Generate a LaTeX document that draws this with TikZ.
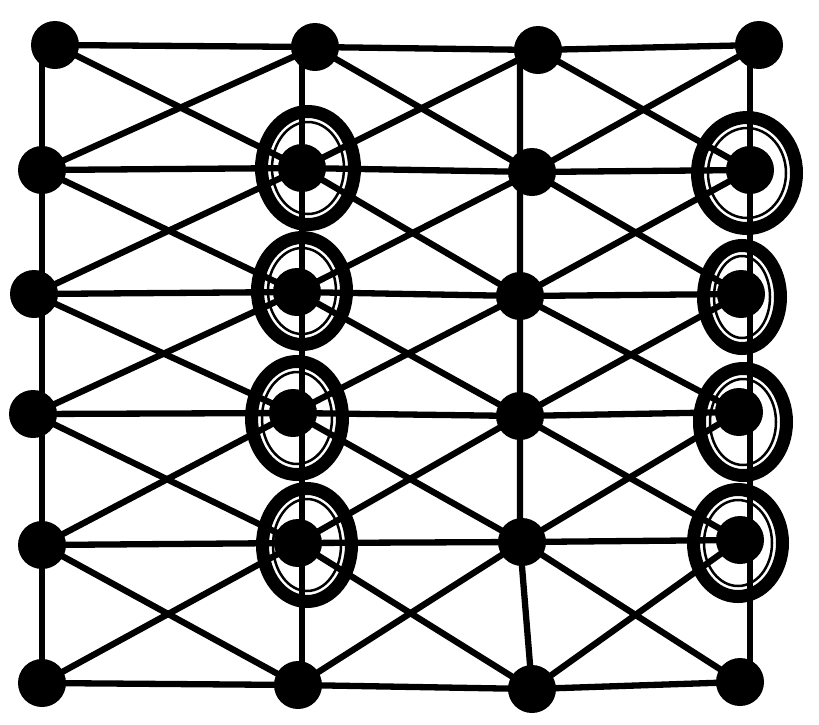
\documentclass[tikz,border=0pt]{standalone}
\begin{document}
\begin{tikzpicture}[x=1pt, y=-1pt, line width=6.3pt,
  dot/.style={circle, fill=black, inner sep=0pt, minimum size=48pt},
  ring/.style={line width=13pt},
  innerring/.style={line width=2.5pt}]
  \useasboundingbox (0,0) rectangle (819,724);

  % vertices, one column at a time
  \foreach \r/\x/\y in {0/55/45, 1/42/170, 2/34/294, 3/33/414, 4/42/545, 5/42/683}
    \node[dot] (a\r) at (\x,\y) {};
  \foreach \r/\x/\y in {0/315/47, 1/302/168, 2/297/292, 3/293/413, 4/298/543, 5/298/685}
    \node[dot] (b\r) at (\x,\y) {};
  \foreach \r/\x/\y in {0/538/50, 1/532/172, 2/520/296, 3/520/416, 4/522/542, 5/532/689}
    \node[dot] (c\r) at (\x,\y) {};
  \foreach \r/\x/\y in {0/759/45, 1/750/170, 2/741/294, 3/739/412, 4/740/540, 5/740/682}
    \node[dot] (d\r) at (\x,\y) {};

  % rows
  \foreach \r in {0,...,5}
    \draw (a\r.center) -- (b\r.center) -- (c\r.center) -- (d\r.center);

  % columns (straight, at the x of row 1 or 2)
  \draw (a1.center |- a0.center) -- (a1.center |- a5.center);
  \draw (b1.center |- b0.center) -- (b1.center |- b5.center);
  \draw (c2.center |- c0.center) -- (c2.center |- c4.center) -- (c5.center);
  \draw (d1.center |- d0.center) -- (d1.center |- d5.center);

  % crossings in every cell
  \foreach \p/\q in {a/b, b/c, c/d} {
    \foreach \r [count=\s] in {0,...,4} {
      \draw (\p\r.center) -- (\q\s.center);
      \draw (\p\s.center) -- (\q\r.center);
    };
  }

  % rings round the marked vertices
  \foreach \x/\y/\rx/\ry in {308/168/53/63, 302/291/51/60, 297/418/52/63, 307/545/51/63,
                             747/173/56/62, 742/297/45/58, 743/422/50/60, 738/543/51/60} {
    \draw[ring] (\x,\y) ellipse ({\rx-6.5} and {\ry-6.5});
    \draw[innerring] (\x,\y) ellipse ({\rx-17} and {\ry-17});
  }
\end{tikzpicture}
\end{document}
